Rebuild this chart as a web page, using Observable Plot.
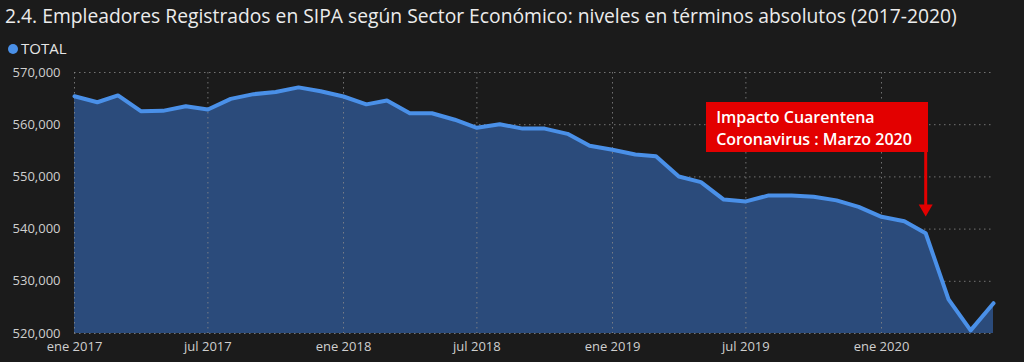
<!DOCTYPE html>
<html><head><meta charset="utf-8">
<script src="https://cdn.jsdelivr.net/npm/d3@7"></script>
<script src="https://cdn.jsdelivr.net/npm/@observablehq/plot@0.6"></script>
<style>
body{margin:0;background:#1b1b1b;overflow:hidden}
#wrap{position:relative;width:1024px;height:362px;font-family:"Open Sans",sans-serif;background:#1b1b1b}
#chart{position:absolute;left:0;top:0}
#title{position:absolute;left:5px;top:2px;color:#ececec;font-size:19.3px;white-space:nowrap;letter-spacing:0}
#legend{position:absolute;left:8px;top:38px;color:#e6e6e6;font-size:15px;white-space:nowrap}
#legend .dot{display:inline-block;width:10px;height:10px;border-radius:50%;background:#4a90e8;margin-right:3px;vertical-align:0px}
#note{position:absolute;background:#e30000;color:#fff;font-weight:600;font-size:16px;line-height:22px;box-sizing:border-box;padding:4px 0 0 10px;white-space:pre}
</style></head><body>
<div id="wrap">
<div id="title">2.4. Empleadores Registrados en SIPA según Sector Económico: niveles en términos absolutos (2017-2020)</div>
<div id="legend"><span class="dot"></span>TOTAL</div>
</div>
<script>
const months = [
 "2017-01","2017-02","2017-03","2017-04","2017-05","2017-06","2017-07","2017-08","2017-09","2017-10","2017-11","2017-12",
 "2018-01","2018-02","2018-03","2018-04","2018-05","2018-06","2018-07","2018-08","2018-09","2018-10","2018-11","2018-12",
 "2019-01","2019-02","2019-03","2019-04","2019-05","2019-06","2019-07","2019-08","2019-09","2019-10","2019-11","2019-12",
 "2020-01","2020-02","2020-03","2020-04","2020-05","2020-06"];
const totalValues = [
 565450,564300,565600,562600,562650,563550,562900,564950,565850,566250,567150,566400,
 565400,563900,564640,562200,562200,560950,559400,560100,559250,559250,558250,555970,
 555200,554300,553950,550080,549000,545650,545300,546450,546450,546200,545500,544250,
 542350,541500,539200,526550,520600,525800];
const yTicks = [520000,530000,540000,550000,560000,570000];
const xTickMonths = ["2017-01","2017-07","2018-01","2018-07","2019-01","2019-07","2020-01"];
const xTickLabels = ["ene 2017","jul 2017","ene 2018","jul 2018","ene 2019","jul 2019","ene 2020"];
const noteMonth = "2020-03";
const noteText = "Impacto Cuarentena\nCoronavirus : Marzo 2020";
const arrowTop = 554700, arrowHead = 543950;

const parse = d3.utcParse("%Y-%m");
const data = months.map((m,i)=>({date:parse(m), v:totalValues[i]}));
const xTicks = xTickMonths.map(parse);
const labelOf = new Map(xTicks.map((d,i)=>[+d, xTickLabels[i]]));
const yMin = yTicks[0], yMax = yTicks[yTicks.length-1];
const noteDate = parse(noteMonth);

const grid = {stroke:"#8a8a8a", strokeOpacity:0.8, strokeDasharray:"1.5,3.5", strokeWidth:1};
const chart = Plot.plot({
  width:1024, height:362,
  marginTop:72, marginBottom:29, marginLeft:74, marginRight:31,
  style:{background:"transparent", color:"#c8c8c8", fontFamily:"'Open Sans',sans-serif", fontSize:"13px"},
  x:{type:"utc", domain:[data[0].date, data[data.length-1].date], label:null},
  y:{domain:[yMin,yMax], label:null},
  marks:[
    Plot.gridY(yTicks, {...grid, x1:data[0].date, x2:data[data.length-1].date, dx:0}),
    Plot.areaY(data, {x:"date", y1:()=>yMin, y2:"v", fill:"#2b4b7b"}),
    Plot.gridX(xTicks, grid),
    Plot.lineY(data, {x:"date", y:"v", stroke:"#4a90e8", strokeWidth:4, strokeLinejoin:"round", strokeLinecap:"round"}),
    Plot.axisY(yTicks, {tickSize:0, tickPadding:14, tickFormat:d3.format(","), fontSize:13, fill:"#cfcfcf", label:null}),
    Plot.axisX(xTicks, {tickSize:0, tickPadding:8, tickFormat:d=>labelOf.get(+d), fontSize:13, fill:"#cfcfcf", label:null}),
    Plot.ruleX([noteDate], {y1:arrowTop, y2:arrowHead, stroke:"#e30000", strokeWidth:3}),
    Plot.dot([noteDate], {x:d=>d, y:()=>arrowHead, symbol:"triangle", rotate:180, r:5.2, fill:"#e30000", stroke:"none"})
  ]
});
chart.id = "chart";
const wrap = document.getElementById("wrap");
wrap.insertBefore(chart, wrap.firstChild);

const px = chart.scale("x").apply(noteDate);
const py = chart.scale("y").apply(arrowTop);
const note = document.createElement("div");
note.id = "note";
note.textContent = noteText;
const w = 222, h = 50;
note.style.width = w+"px"; note.style.height = h+"px";
note.style.left = (px + 3 - w) + "px";
note.style.top = (py - h) + "px";
wrap.appendChild(note);
</script>
</body></html>
